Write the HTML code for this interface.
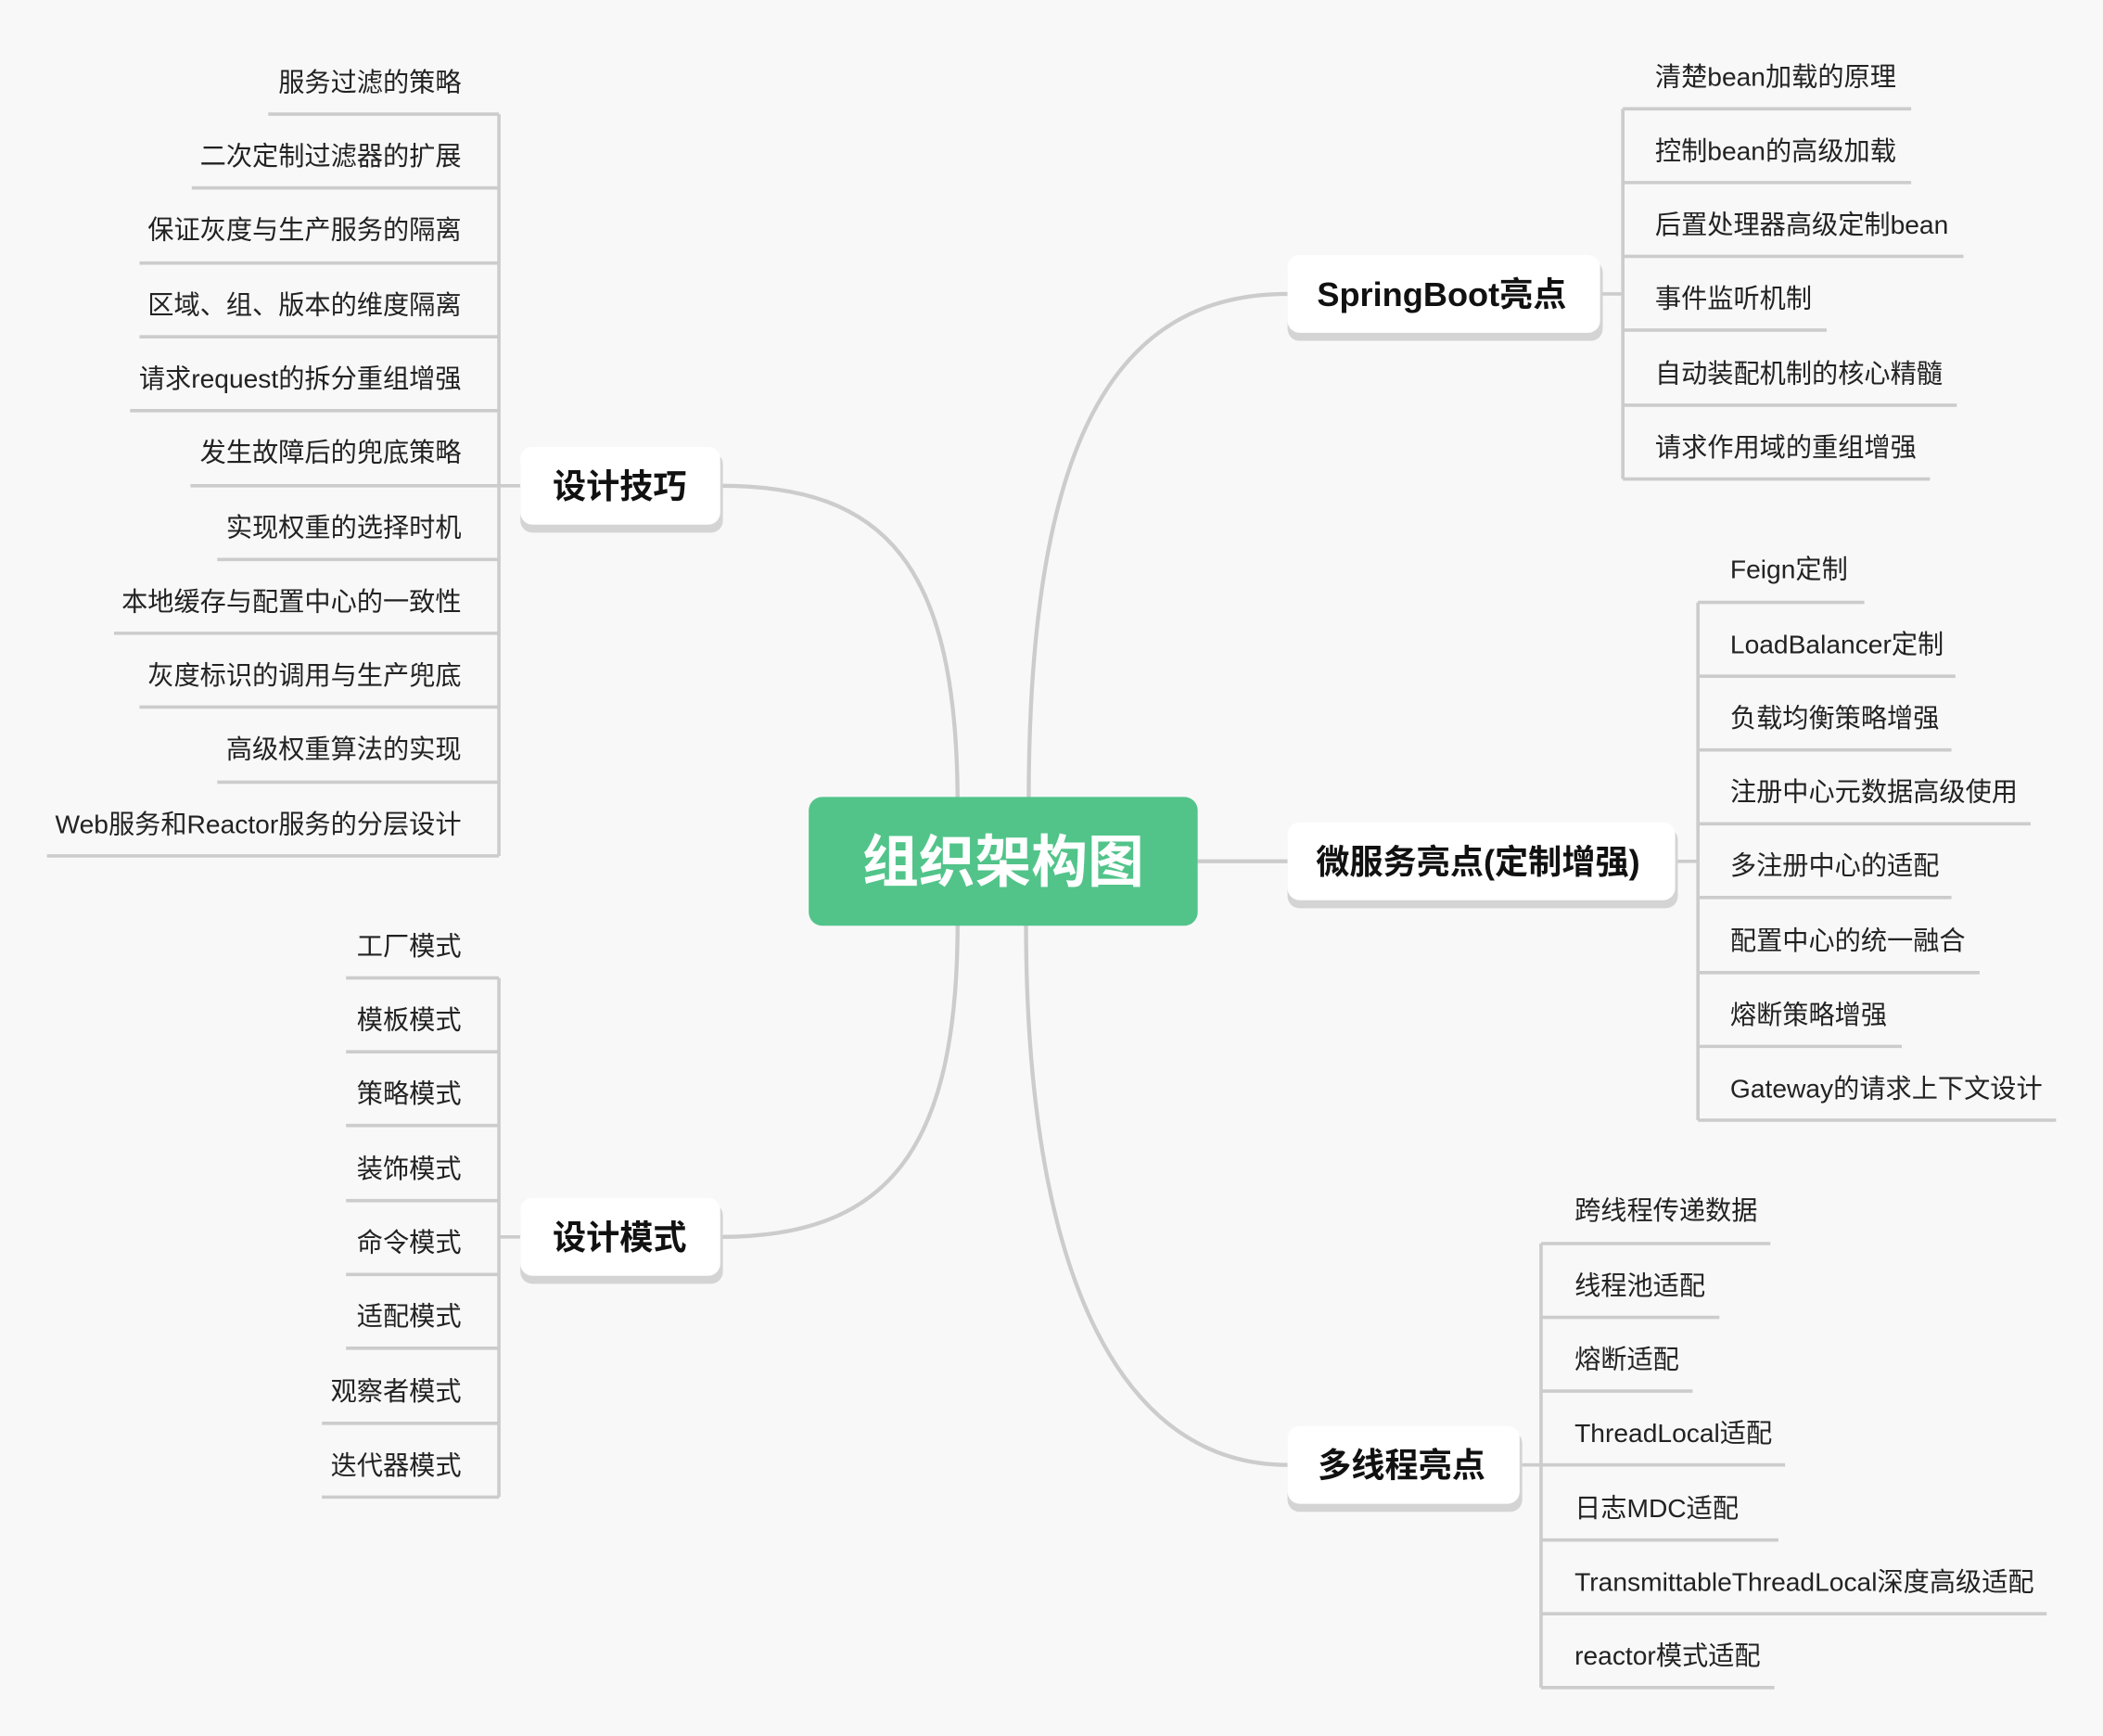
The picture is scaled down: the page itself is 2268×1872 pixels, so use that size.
<!DOCTYPE html>
<html><head><meta charset="utf-8"><style>
html,body{margin:0;padding:0;background:#f8f8f8;}
svg{display:block}
text{font-family:"Liberation Sans","Noto Sans CJK SC",sans-serif;fill:#222;}
.l{font-size:19.5px}
.c{font-size:25px;font-weight:bold;fill:#111}
</style></head><body>
<svg width="2268" height="1872" viewBox="0 0 1568 1294" xmlns="http://www.w3.org/2000/svg">
<rect width="1568" height="1294" fill="#f8f8f8"/>
<g fill="none" stroke="#cccccc" stroke-width="3">
<path d="M714,600 C714,420 660,362 537,362"/>
<path d="M714,688 C714,860 660,922 537,922"/>
<path d="M767,598 C767,330 830,219 960,219"/>
<path d="M893,642 H960"/>
<path d="M765,688 C765,960 840,1092 960,1092"/>
</g>
<g fill="none" stroke="#cccccc" stroke-width="2.5">
<path d="M372,85 V638"/><path d="M372,362 H388"/>
<path d="M200,85 H372"/><path d="M143,140 H372"/><path d="M104,196 H372"/><path d="M104,251 H372"/><path d="M97,306 H372"/><path d="M142,362 H372"/><path d="M162,417 H372"/><path d="M85,472 H372"/><path d="M104,527 H372"/><path d="M162,583 H372"/><path d="M35,638 H372"/>
<path d="M372,729 V1116"/><path d="M372,922 H388"/>
<path d="M258,729 H372"/><path d="M258,784 H372"/><path d="M258,839 H372"/><path d="M258,895 H372"/><path d="M258,950 H372"/><path d="M258,1005 H372"/><path d="M240,1061 H372"/><path d="M240,1116 H372"/>
<path d="M1210,81 V357"/><path d="M1193,219 H1210"/>
<path d="M1210,81 H1425"/><path d="M1210,136 H1425"/><path d="M1210,191 H1464"/><path d="M1210,246 H1362"/><path d="M1210,302 H1459"/><path d="M1210,357 H1439"/>
<path d="M1266,449 V835"/><path d="M1249,642 H1266"/>
<path d="M1266,449 H1390"/><path d="M1266,504 H1458"/><path d="M1266,559 H1455"/><path d="M1266,614 H1514"/><path d="M1266,669 H1455"/><path d="M1266,725 H1476"/><path d="M1266,780 H1418"/><path d="M1266,835 H1533"/>
<path d="M1149,927 V1258"/><path d="M1133,1092 H1149"/>
<path d="M1149,927 H1320"/><path d="M1149,982 H1282"/><path d="M1149,1037 H1262"/><path d="M1149,1092 H1331"/><path d="M1149,1148 H1326"/><path d="M1149,1203 H1526"/><path d="M1149,1258 H1323"/>
</g>
<g>
<rect x="388" y="337" width="151" height="60" rx="9" fill="#d4d4d4"/>
<rect x="388" y="333" width="149" height="58" rx="9" fill="#fff"/>
<rect x="388" y="897" width="151" height="60" rx="9" fill="#d4d4d4"/>
<rect x="388" y="893" width="149" height="58" rx="9" fill="#fff"/>
<rect x="960" y="194" width="235" height="60" rx="9" fill="#d4d4d4"/>
<rect x="960" y="190" width="233" height="58" rx="9" fill="#fff"/>
<rect x="960" y="617" width="291" height="60" rx="9" fill="#d4d4d4"/>
<rect x="960" y="613" width="289" height="58" rx="9" fill="#fff"/>
<rect x="960" y="1067" width="175" height="60" rx="9" fill="#d4d4d4"/>
<rect x="960" y="1063" width="173" height="58" rx="9" fill="#fff"/>
<rect x="603" y="594" width="290" height="96" rx="10" fill="#52c48a"/>
</g>
<text x="748" y="657" text-anchor="middle" style="font-size:42px;font-weight:bold;fill:#fff">组织架构图</text>
<text class="c" x="462" y="371" text-anchor="middle">设计技巧</text>
<text class="c" x="462" y="931" text-anchor="middle">设计模式</text>
<text class="c" x="1075" y="228" text-anchor="middle">SpringBoot亮点</text>
<text class="c" x="1102" y="651" text-anchor="middle">微服务亮点(定制增强)</text>
<text class="c" x="1045" y="1101" text-anchor="middle">多线程亮点</text>
<g class="l" text-anchor="end">
<text class="l" x="344" y="68">服务过滤的策略</text>
<text class="l" x="344" y="123">二次定制过滤器的扩展</text>
<text class="l" x="344" y="178">保证灰度与生产服务的隔离</text>
<text class="l" x="344" y="234">区域、组、版本的维度隔离</text>
<text class="l" x="344" y="289">请求request的拆分重组增强</text>
<text class="l" x="344" y="344">发生故障后的兜底策略</text>
<text class="l" x="344" y="400">实现权重的选择时机</text>
<text class="l" x="344" y="455">本地缓存与配置中心的一致性</text>
<text class="l" x="344" y="510">灰度标识的调用与生产兜底</text>
<text class="l" x="344" y="565">高级权重算法的实现</text>
<text class="l" x="344" y="621">Web服务和Reactor服务的分层设计</text>
<text class="l" x="344" y="712">工厂模式</text>
<text class="l" x="344" y="767">模板模式</text>
<text class="l" x="344" y="822">策略模式</text>
<text class="l" x="344" y="878">装饰模式</text>
<text class="l" x="344" y="933">命令模式</text>
<text class="l" x="344" y="988">适配模式</text>
<text class="l" x="344" y="1044">观察者模式</text>
<text class="l" x="344" y="1099">迭代器模式</text>
</g>
<g>
<text class="l" x="1234" y="64">清楚bean加载的原理</text>
<text class="l" x="1234" y="119">控制bean的高级加载</text>
<text class="l" x="1234" y="174">后置处理器高级定制bean</text>
<text class="l" x="1234" y="229">事件监听机制</text>
<text class="l" x="1234" y="285">自动装配机制的核心精髓</text>
<text class="l" x="1234" y="340">请求作用域的重组增强</text>
<text class="l" x="1290" y="431">Feign定制</text>
<text class="l" x="1290" y="487">LoadBalancer定制</text>
<text class="l" x="1290" y="542">负载均衡策略增强</text>
<text class="l" x="1290" y="597">注册中心元数据高级使用</text>
<text class="l" x="1290" y="652">多注册中心的适配</text>
<text class="l" x="1290" y="708">配置中心的统一融合</text>
<text class="l" x="1290" y="763">熔断策略增强</text>
<text class="l" x="1290" y="818">Gateway的请求上下文设计</text>
<text class="l" x="1174" y="909">跨线程传递数据</text>
<text class="l" x="1174" y="965">线程池适配</text>
<text class="l" x="1174" y="1020">熔断适配</text>
<text class="l" x="1174" y="1075">ThreadLocal适配</text>
<text class="l" x="1174" y="1131">日志MDC适配</text>
<text class="l" x="1174" y="1186">TransmittableThreadLocal深度高级适配</text>
<text class="l" x="1174" y="1241">reactor模式适配</text>
</g>
</svg>
</body></html>
